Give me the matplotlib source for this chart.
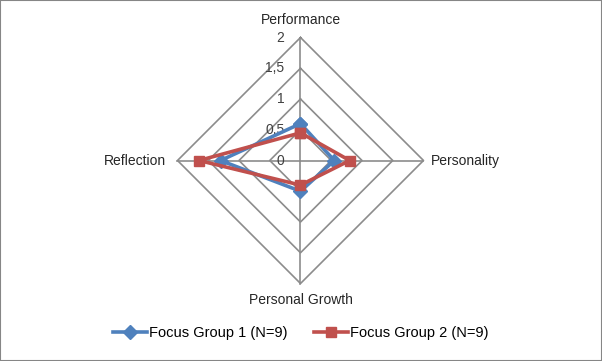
import numpy as np
import matplotlib
matplotlib.use("Agg")
import matplotlib.pyplot as plt
from matplotlib.patches import Rectangle
from matplotlib.lines import Line2D

categories = ["Performance", "Personality", "Personal Growth", "Reflection"]
group1 = [0.6, 0.55, 0.5, 1.3]
group2 = [0.45, 0.8, 0.4, 1.65]
series_names = ["Focus Group 1 (N=9)", "Focus Group 2 (N=9)"]
levels = [0.5, 1.0, 1.5, 2.0]
tick_labels = ["0", "0,5", "1", "1,5", "2"]
tick_values = [0, 0.5, 1.0, 1.5, 2.0]

plt.rcParams['font.family'] = ['Liberation Sans', 'DejaVu Sans']

W, H = 602, 361
dpi = 100
fig = plt.figure(figsize=(W / dpi, H / dpi), dpi=dpi)
ax = fig.add_axes([0, 0, 1, 1])
px = 61.5  # pixels per unit
cx, cy = 300.5, 160.5
ax.set_xlim(-cx / px, (W - cx) / px)
ax.set_ylim(-(H - cy) / px, cy / px)
ax.axis('off')

angles = np.array([0, 90, 180, 270]) * np.pi / 180.0  # clockwise from top


def to_xy(vals):
    vals = np.asarray(vals, dtype=float)
    return vals * np.sin(angles), vals * np.cos(angles)

grid_col = '#8c8c8c'
for lv in levels:
    gx, gy = to_xy([lv] * 4)
    ax.plot(np.append(gx, gx[0]), np.append(gy, gy[0]), color=grid_col, lw=1.2, zorder=1)
for a in angles:
    ax.plot([0, 2 * np.sin(a)], [0, 2 * np.cos(a)], color=grid_col, lw=1.2, zorder=1)

fs = 10
for t, lab in zip(tick_values, tick_labels):
    ax.text(-16 / px, t, lab, ha='right', va='center', fontsize=fs, color='#404040', zorder=2)

# category labels
ax.text(0, 2 + 18 / px, categories[0], ha='center', va='center', fontsize=fs, color='#262626')
ax.text(2 + 7 / px, 0, categories[1], ha='left', va='center', fontsize=fs, color='#262626')
ax.text(0, -2 - 17 / px, categories[2], ha='center', va='center', fontsize=fs, color='#262626')
ax.text(-2 - 11 / px, 0, categories[3], ha='right', va='center', fontsize=fs, color='#262626')

blue = '#4F81BD'
red = '#C0504D'
x1, y1 = to_xy(group1)
x2, y2 = to_xy(group2)
ax.plot(np.append(x1, x1[0]), np.append(y1, y1[0]), color=blue, lw=2.6,
        marker='D', ms=7.5, zorder=3)
ax.plot(np.append(x2, x2[0]), np.append(y2, y2[0]), color=red, lw=2.6,
        marker='s', ms=7.5, zorder=4)

handles = [Line2D([], [], color=blue, lw=2.6, marker='D', ms=7.5),
           Line2D([], [], color=red, lw=2.6, marker='s', ms=7.5)]
fig.legend(handles, series_names, loc='center', bbox_to_anchor=(0.5, 1 - 333 / H),
           ncol=2, frameon=False, fontsize=10.5, handlelength=2.3, handletextpad=0.15,
           columnspacing=1.85)

fig.patches.append(Rectangle((0, 0), 1, 1, transform=fig.transFigure, fill=False,
                             edgecolor='#868686', lw=1.5))

fig.savefig('out.png', dpi=dpi)
